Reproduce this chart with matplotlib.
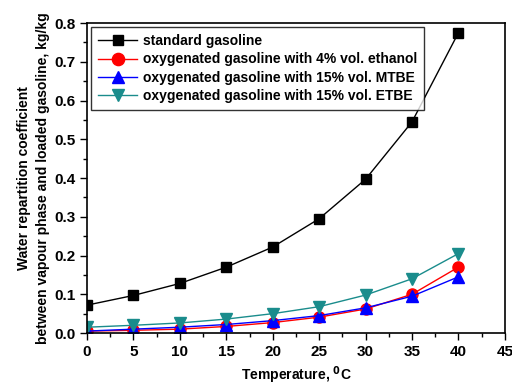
import matplotlib
matplotlib.use("Agg")
import matplotlib.pyplot as plt
from matplotlib.ticker import MultipleLocator

plt.rcParams['font.family'] = ['Liberation Sans', 'DejaVu Sans']
plt.rcParams['font.weight'] = 'bold'
plt.rcParams['mathtext.default'] = 'bf'

temperature = [0, 5, 10, 15, 20, 25, 30, 35, 40]
standard = [0.072, 0.097, 0.128, 0.170, 0.222, 0.295, 0.397, 0.545, 0.775]
ethanol = [0.005, 0.007, 0.010, 0.017, 0.027, 0.041, 0.062, 0.100, 0.170]
mtbe = [0.005, 0.010, 0.015, 0.022, 0.032, 0.045, 0.065, 0.095, 0.145]
etbe = [0.015, 0.020, 0.026, 0.036, 0.050, 0.068, 0.098, 0.140, 0.205]

labels = ["standard gasoline",
          "oxygenated gasoline with 4% vol. ethanol",
          "oxygenated gasoline with 15% vol. MTBE",
          "oxygenated gasoline with 15% vol. ETBE"]

fig = plt.figure(figsize=(5.12, 3.85), dpi=100)
ax = fig.add_axes([0.170, 0.135, 0.816, 0.805])

ax.plot(temperature, standard, color="black", marker="s", ms=7, lw=1, label=labels[0])
ax.plot(temperature, ethanol, color="red", marker="o", ms=8, lw=1, label=labels[1])
ax.plot(temperature, mtbe, color="blue", marker="^", ms=8, lw=1, label=labels[2])
ax.plot(temperature, etbe, color="#1a8c8c", marker="v", ms=8, lw=1, label=labels[3])

ax.set_xlim(0, 45)
ax.set_ylim(0, 0.8)
ax.xaxis.set_major_locator(MultipleLocator(5))
ax.xaxis.set_minor_locator(MultipleLocator(2.5))
ax.yaxis.set_major_locator(MultipleLocator(0.1))
ax.yaxis.set_minor_locator(MultipleLocator(0.05))
ax.yaxis.set_major_formatter(plt.FormatStrFormatter('%.1f'))
ax.tick_params(which="major", length=5, width=1, labelsize=11)
ax.tick_params(which="minor", length=3, width=1)
for s in ax.spines.values():
    s.set_linewidth(1.2)

ax.set_xlabel("Temperature, $^{0}$C", fontsize=10, fontweight="bold", labelpad=4)
ax.set_ylabel("Water repartition coefficient\nbetween vapour phase and loaded gasoline, kg/kg",
              fontsize=10, fontweight="bold", labelpad=3, linespacing=1.45)

leg = ax.legend(loc="upper left", fontsize=10, frameon=True, fancybox=False,
                edgecolor="black", borderaxespad=0.3, handlelength=2.8,
                labelspacing=0.3, borderpad=0.5, handletextpad=0.4,
                markerscale=1.1)
leg.get_frame().set_linewidth(1.0)
for t in leg.get_texts():
    t.set_fontweight("bold")

fig.savefig("out.png", dpi=100)
